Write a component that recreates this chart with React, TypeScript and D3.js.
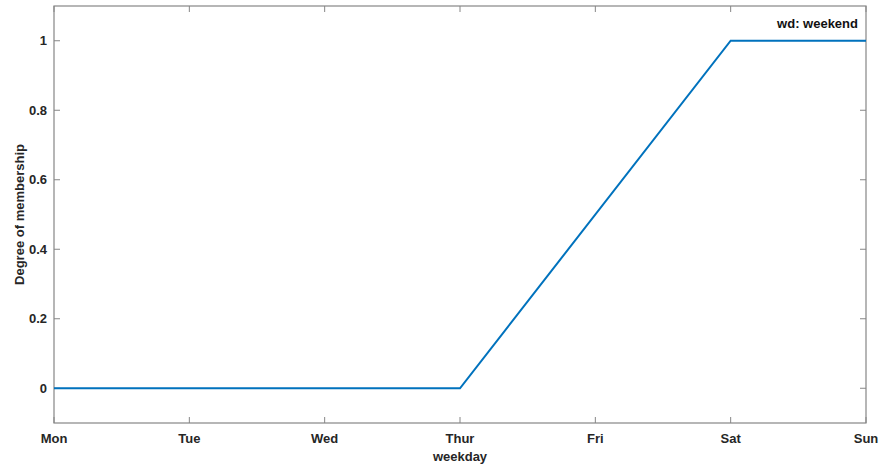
import React from "react";
import * as d3 from "d3";

const categories = ["Mon", "Tue", "Wed", "Thur", "Fri", "Sat", "Sun"];
const xPoints = [0, 3, 5, 6];
const yValues = [0, 0, 1, 1];
const yTicks = [0, 0.2, 0.4, 0.6, 0.8, 1];
const title = "wd: weekend";

export default function App() {
  const W = 883, H = 466;
  const L = 54, R = 866, T = 6, B = 423;
  const x = d3.scaleLinear().domain([0, categories.length - 1]).range([L, R]);
  const y = d3.scaleLinear().domain([-0.1, 1.1]).range([B, T]);
  const line = d3.line<number>().x((_, i) => x(xPoints[i])).y((d) => y(d));
  const font = "'Liberation Sans', Arial, Helvetica, sans-serif";
  const axisColor = "#868686";
  const textColor = "#262626";
  const tl = 6;
  return (
    <svg width={W} height={H} style={{ position: "absolute", left: 0, top: 0 }} fontFamily={font}>
      <rect x={0} y={0} width={W} height={H} fill="#fff" />
      {categories.map((c, i) => (
        <g key={c}>
          <line x1={x(i)} x2={x(i)} y1={B} y2={B - tl} stroke={axisColor} />
          <line x1={x(i)} x2={x(i)} y1={T} y2={T + tl} stroke={axisColor} />
          <text x={x(i)} y={443} textAnchor="middle" fontSize={13} fontWeight="bold" fill={textColor}>{c}</text>
        </g>
      ))}
      {yTicks.map((t) => (
        <g key={t}>
          <line x1={L} x2={L + tl} y1={y(t)} y2={y(t)} stroke={axisColor} />
          <line x1={R} x2={R - tl} y1={y(t)} y2={y(t)} stroke={axisColor} />
          <text x={47} y={y(t) + 4.5} textAnchor="end" fontSize={13} fontWeight="bold" fill={textColor}>{t === 0 || t === 1 ? String(t) : String(t)}</text>
        </g>
      ))}
      <rect x={L} y={T} width={R - L} height={B - T} fill="none" stroke={axisColor} strokeWidth={1.2} />
      <path d={line(yValues) || ""} fill="none" stroke="#0072BD" strokeWidth={2} />
      <text x={858} y={28} textAnchor="end" fontSize={13} fontWeight="bold" fill="#111">{title}</text>
      <text x={460} y={461} textAnchor="middle" fontSize={13} fontWeight="bold" fill={textColor}>weekday</text>
      <text transform={`translate(24,${(T + B) / 2}) rotate(-90)`} textAnchor="middle" fontSize={13} fontWeight="bold" fill={textColor}>Degree of membership</text>
    </svg>
  );
}
